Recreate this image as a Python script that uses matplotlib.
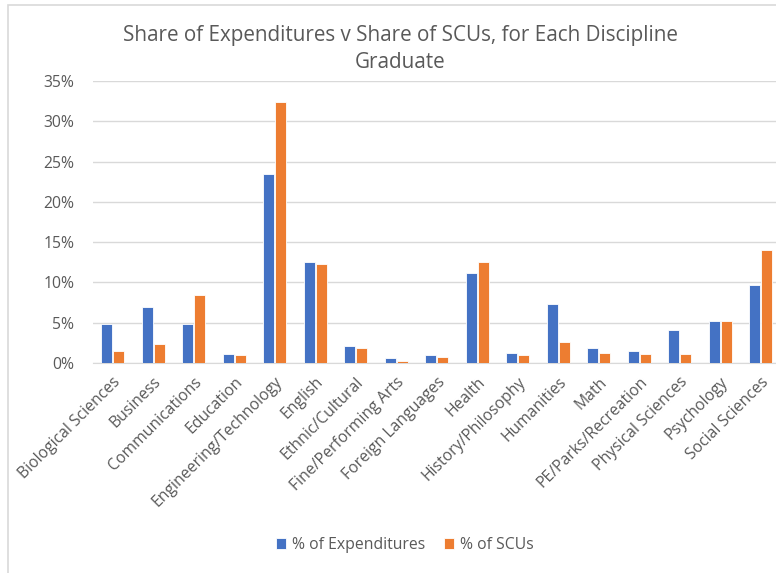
import matplotlib.pyplot as plt
import matplotlib.patches as mpatches
from matplotlib.ticker import PercentFormatter
import numpy as np

plt.rcParams["font.family"] = ["Open Sans", "DejaVu Sans"]

disciplines = ["Biological Sciences", "Business", "Communications", "Education",
               "Engineering/Technology", "English", "Ethnic/Cultural",
               "Fine/Performing Arts", "Foreign Languages", "Health",
               "History/Philosophy", "Humanities", "Math", "PE/Parks/Recreation",
               "Physical Sciences", "Psychology", "Social Sciences"]
expenditures = [4.9, 6.9, 4.9, 1.1, 23.5, 12.5, 2.1, 0.6, 0.95, 11.2,
                1.3, 7.3, 1.85, 1.5, 4.1, 5.25, 9.7]
scus = [1.45, 2.4, 8.4, 0.95, 32.4, 12.3, 1.9, 0.2, 0.75, 12.5,
        0.95, 2.6, 1.3, 1.1, 1.1, 5.25, 14.0]

blue = "#4472C4"
orange = "#ED7D31"
grey = "#595959"

W, H = 776, 573
fig = plt.figure(figsize=(W / 100, H / 100), dpi=100)

# chart frame (cropped on right and bottom)
fig.patches.append(mpatches.Rectangle((7.5 / W, -0.05), 1.1, 1 - 4.5 / H + 0.05,
                                      transform=fig.transFigure, fill=False,
                                      edgecolor="#D9D9D9", linewidth=1.2))

ax = fig.add_axes([92.5 / W, (H - 363) / H, (781 - 92.5) / W, (363 - 81) / H])

x = np.arange(len(disciplines))
w = 0.27
ax.bar(x - 0.145, expenditures, w, color=blue, edgecolor="white", linewidth=0.6,
       label="% of Expenditures", zorder=3)
ax.bar(x + 0.145, scus, w, color=orange, edgecolor="white", linewidth=0.6,
       label="% of SCUs", zorder=3)

ax.set_xlim(-0.5, len(disciplines) - 0.5)
ax.set_ylim(0, 35)
ax.set_yticks(np.arange(0, 36, 5))
ax.yaxis.set_major_formatter(PercentFormatter(decimals=0))
ax.grid(axis="y", color="#D9D9D9", linewidth=1)
for s in ["top", "right", "left"]:
    ax.spines[s].set_visible(False)
ax.spines["bottom"].set_color("#D9D9D9")
ax.tick_params(axis="both", length=0, colors=grey, labelsize=11.3)
ax.tick_params(axis="y", pad=13)
ax.tick_params(axis="x", pad=8)
ax.set_xticks(x)
ax.set_xticklabels(disciplines, rotation=45, ha="right", rotation_mode="anchor")

fig.text(400 / W, 1 - 35 / H, "Share of Expenditures v Share of SCUs, for Each Discipline",
         ha="center", va="center", fontsize=14.9, color=grey)
fig.text(400 / W, 1 - 62 / H, "Graduate", ha="center", va="center", fontsize=14.9, color=grey)

fig.legend(loc="center", bbox_to_anchor=(405 / W, 1 - 545 / H), ncol=2, frameon=False,
           fontsize=11.3, labelcolor=grey, handlelength=0.65, handleheight=0.65,
           handletextpad=0.4, columnspacing=1.15)

fig.savefig("out.png", dpi=100, facecolor="white")
